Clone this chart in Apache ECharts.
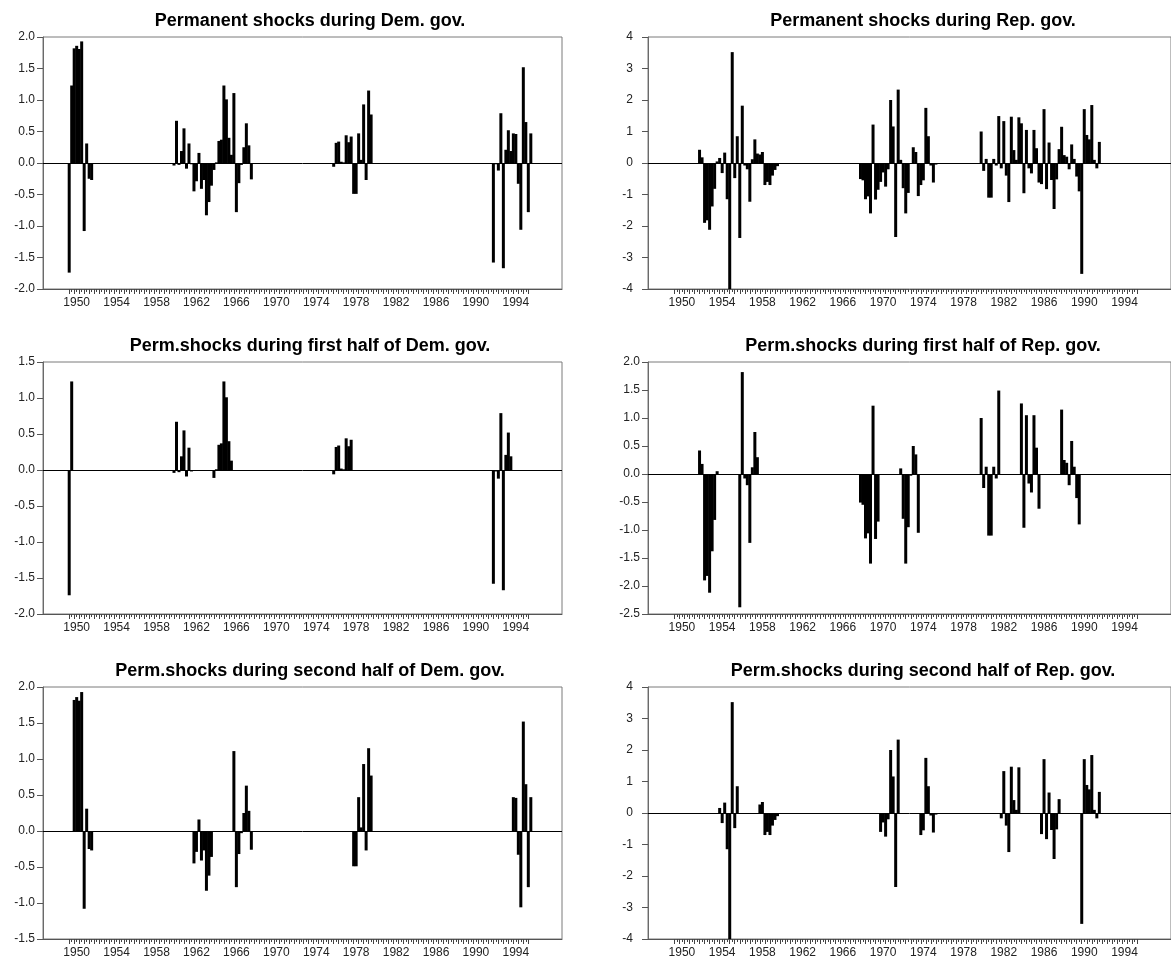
<!DOCTYPE html>
<html><head><meta charset="utf-8">
<script src="https://cdn.jsdelivr.net/npm/echarts@6/dist/echarts.min.js"></script>
<style>html,body{margin:0;padding:0;background:#fff}#c{width:1171px;height:965px}</style>
</head><body><div id="c"></div><script>
// ---- data (quarterly permanent shocks) ----
const firstYear = 1948, lastYear = 1999;
// Democratic administrations
const demTruman = [-1.74, 1.23, 1.82, 1.86, 1.81, 1.93, -1.08, 0.31, -0.25, -0.27];            // 1950Q3-1952Q4
const demKennedyJohnson = [-0.04, 0.67, -0.03, 0.19, 0.55, -0.09, 0.31, -0.02,
  -0.45, -0.29, 0.16, -0.41, -0.27, -0.83, -0.62, -0.36,
  -0.11, 0.01, 0.35, 0.37, 1.23, 1.01, 0.40, 0.13,
  1.11, -0.78, -0.32, -0.03, 0.25, 0.63, 0.28, -0.26];                                          // 1961Q1-1968Q4
const demCarter = [-0.06, 0.32, 0.34, 0.02, 0.01, 0.44, 0.33, 0.42,
  -0.49, -0.49, 0.47, 0.05, 0.93, -0.27, 1.15, 0.77];                                           // 1977Q1-1980Q4
const demClinton = [-1.58, -0.02, -0.12, 0.79, -1.67, 0.21, 0.52, 0.19,
  0.47, 0.46, -0.33, -1.06, 1.52, 0.65, -0.78, 0.47];                                           // 1993Q1-1996Q4
// Republican administrations
const repEisenhower = [0.42, 0.18, -1.90, -1.82, -2.12, -1.38, -0.82, 0.05,
  0.16, -0.32, 0.33, -1.15, -4.00, 3.52, -0.48, 0.85,
  -2.38, 1.82, -0.08, -0.20, -1.23, 0.12, 0.75, 0.30,
  0.27, 0.35, -0.70, -0.60, -0.70, -0.40, -0.22, -0.10];                                        // 1953Q1-1960Q4
const repNixonFord = [-0.51, -0.55, -1.15, -1.06, -1.60, 1.22, -1.16, -0.85,
  -0.60, -0.30, -0.75, -0.20, 2.00, 1.16, -2.35, 2.33,
  0.10, -0.80, -1.60, -0.95, -0.03, 0.50, 0.35, -1.05,
  -0.70, -0.55, 1.75, 0.85, -0.08, -0.62, -0.05, -0.02];                                        // 1969Q1-1976Q4
const repReaganBush = [1.00, -0.25, 0.13, -1.10, -1.10, 0.13, -0.08, 1.49,
  -0.17, 1.33, -0.40, -1.24, 1.47, 0.41, 0.10, 1.45,
  1.26, -0.96, 1.05, -0.17, -0.33, 1.05, 0.47, -0.62,
  -0.67, 1.71, -0.83, 0.65, -0.54, -1.46, -0.52, 0.44,
  1.15, 0.25, 0.20, -0.20, 0.59, 0.13, -0.43, -0.90,
  -3.52, 1.71, 0.89, 0.75, 1.84, 0.10, -0.17, 0.67];                                            // 1981Q1-1992Q4
const tickLabels = ['1950','1954','1958','1962','1966','1970','1974','1978','1982','1986','1990','1994'];
const titles = [
  'Permanent shocks during Dem. gov.', 'Permanent shocks during Rep. gov.',
  'Perm.shocks during first half of Dem. gov.', 'Perm.shocks during first half of Rep. gov.',
  'Perm.shocks during second half of Dem. gov.', 'Perm.shocks during second half of Rep. gov.'
];

// ---- build quarterly series ----
const quarters = [];
for (let y = firstYear; y <= lastYear; y++) for (let q = 1; q <= 4; q++) quarters.push(y + 'Q' + q);
const N = quarters.length;
function idx(y, q) { return (y - firstYear) * 4 + (q - 1); }
function build(parts) {
  const s = new Array(N).fill(null);
  parts.forEach(([y, q, vals]) => vals.forEach((v, k) => { s[idx(y, q) + k] = v; }));
  return s;
}
const dem = build([[1950, 3, demTruman], [1961, 1, demKennedyJohnson], [1977, 1, demCarter], [1993, 1, demClinton]]);
const rep = build([[1953, 1, repEisenhower], [1969, 1, repNixonFord], [1981, 1, repReaganBush]]);
function isFirstHalf(i) { const y = firstYear + Math.floor(i / 4); return ((y - 1949) % 4 + 4) % 4 < 2; }
const demFirst = dem.map((v, i) => isFirstHalf(i) ? v : null);
const repFirst = rep.map((v, i) => isFirstHalf(i) ? v : null);
const demSecond = dem.map((v, i) => isFirstHalf(i) ? null : v);
const repSecond = rep.map((v, i) => isFirstHalf(i) ? null : v);

const labelIndex = {};
tickLabels.forEach(l => { labelIndex[idx(+l + 1, 2)] = l; });
const tickFrom = idx(1950, 3), tickTo = idx(1996, 3);

// ---- layout ----
const FONT = 'Liberation Sans, Arial, Helvetica, sans-serif';
const panels = [
  { s: dem,       min: -2,   max: 2,   step: 0.5, dec: 1 },
  { s: rep,       min: -4,   max: 4,   step: 1,   dec: 0 },
  { s: demFirst,  min: -2,   max: 1.5, step: 0.5, dec: 1 },
  { s: repFirst,  min: -2.5, max: 2,   step: 0.5, dec: 1 },
  { s: demSecond, min: -1.5, max: 2,   step: 0.5, dec: 1 },
  { s: repSecond, min: -4,   max: 4,   step: 1,   dec: 0 }
];
const colLeft = [43, 648], colWidth = [519, 532], titleX = [310, 923];
const rowTop = [37, 362, 687], plotH = 252;

const option = { animation: false, backgroundColor: '#fff', title: [], grid: [], xAxis: [], yAxis: [], series: [] };
panels.forEach((p, k) => {
  const r = Math.floor(k / 2), c = k % 2;
  option.title.push({ text: titles[k], left: titleX[c], top: rowTop[r] - 25, textAlign: 'center', padding: 0,
    textStyle: { fontFamily: FONT, fontSize: 18, fontWeight: 'bold', color: '#000' } });
  option.grid.push({ left: colLeft[c], top: rowTop[r], width: colWidth[c], height: plotH, show: true,
    borderColor: '#7a7a7a', borderWidth: 1, backgroundColor: 'transparent' });
  option.xAxis.push({ type: 'category', gridIndex: k, data: quarters, position: 'bottom',
    axisLine: { show: true, onZero: false, lineStyle: { color: '#555', width: 1 } },
    axisTick: { show: true, length: 3, alignWithLabel: true, interval: (i) => i >= tickFrom && i <= tickTo, lineStyle: { color: '#444' } },
    axisLabel: { show: true, interval: (i) => labelIndex[i] !== undefined, formatter: (v, i) => labelIndex[i] || '',
      fontFamily: FONT, fontSize: 12, color: '#222', margin: 8 },
    splitLine: { show: false } });
  option.xAxis.push({ type: 'category', gridIndex: k, data: quarters, position: 'bottom', offset: 0,
    axisLine: { show: false, onZero: false }, axisLabel: { show: false }, splitLine: { show: false },
    axisTick: { show: true, length: 5, alignWithLabel: true, interval: (i) => i >= tickFrom && i <= tickTo && i % 2 === 0, lineStyle: { color: '#444' } } });
  option.yAxis.push({ type: 'value', gridIndex: k, min: p.min, max: p.max, interval: p.step,
    axisLine: { show: true, onZero: false, lineStyle: { color: '#6a6a6a', width: 1 } },
    axisTick: { show: true, length: 6, lineStyle: { color: '#555' } },
    axisLabel: { fontFamily: FONT, fontSize: 12, color: '#222', margin: p.dec ? 8 : 15,
      formatter: (v) => v.toFixed(p.dec) },
    splitLine: { show: false } });
  option.series.push({ type: 'bar', xAxisIndex: 2 * k, yAxisIndex: k, data: p.s, barWidth: 3,
    itemStyle: { color: '#000' }, silent: true,
    markLine: { silent: true, symbol: 'none', label: { show: false }, animation: false,
      lineStyle: { color: '#000', width: 1, type: 'solid' }, data: [{ yAxis: 0 }] } });
});
const chart = echarts.init(document.getElementById('c'), null, { renderer: 'canvas' });
chart.setOption(option);
</script></body></html>
